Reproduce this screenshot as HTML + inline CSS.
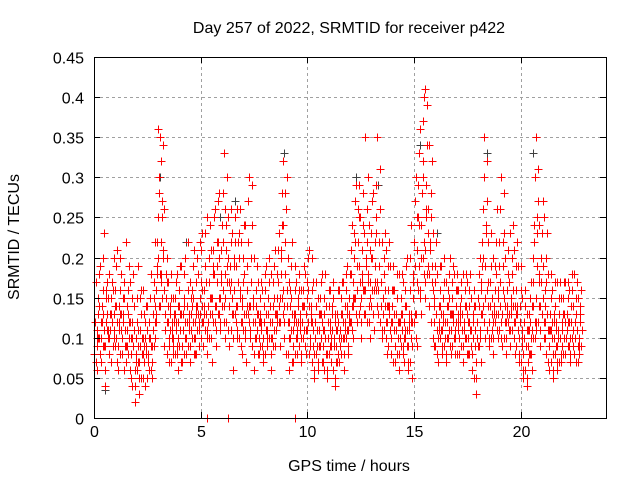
<!DOCTYPE html>
<html><head><meta charset="utf-8"><style>
html,body{margin:0;padding:0;background:#fff}
svg{display:block;font-family:"Liberation Sans",sans-serif}
</style></head><body>
<svg id="chart" width="640" height="480">
<g id="grid"></g>
<g id="marks"></g>
<rect x="94.5" y="57.5" width="512" height="361" fill="none" stroke="#000" stroke-width="1"/>
<g id="axes"></g>
<text x="349" y="33" font-size="16" text-anchor="middle">Day 257 of 2022, SRMTID for receiver p422</text>
<text x="349" y="471" font-size="16" text-anchor="middle">GPS time / hours</text>
<text x="19" y="237" font-size="16" text-anchor="middle" transform="rotate(-90 19 237)">SRMTID / TECUs</text>
</svg>
<script>
const xTicks=[0,5,10,15,20];
const yTicks=[0,0.05,0.1,0.15,0.2,0.25,0.3,0.35,0.4,0.45];
const yTickLabels=["0","0.05","0.1","0.15","0.2","0.25","0.3","0.35","0.4","0.45"];
const redRows=[
[0.0,.08,.12,.17,.06,.10],[0.2,.10,.14,.19,.07,.12],[0.4,.09,.13,.23,.04,.16],[0.6,.11,.15,.18,.08,.13],
[0.8,.07,.12,.16,.10,.20],[1.0,.09,.14,.21,.06,.11],[1.2,.08,.13,.18,.10,.15],[1.4,.06,.11,.22,.09,.14],
[1.6,.08,.12,.17,.05,.10],[1.8,.04,.09,.14,.02,.07],[2.0,.06,.11,.19,.03,.15],[2.2,.05,.10,.16,.08,.13],
[2.4,.04,.09,.14,.07,.12],[2.6,.06,.10,.18,.05,.13],[2.8,.09,.14,.22,.12,.18],[3.0,.20,.28,.35,.17,.32],
[3.2,.15,.21,.26,.11,.18],[3.4,.08,.12,.17,.10,.14],[3.6,.07,.11,.15,.09,.13],[3.8,.08,.12,.18,.06,.14],
[4.0,.09,.13,.19,.07,.11],[4.2,.08,.14,.20,.10,.12],[4.4,.09,.12,.17,.07,.15],[4.6,.10,.15,.21,.08,.13],
[4.8,.08,.14,.18,.12,.22],[5.0,.10,.16,.23,.09,.13],[5.2,.11,.17,.25,.08,.14],[5.4,.10,.15,.21,.07,.19],
[5.6,.12,.18,.26,.09,.22],[5.8,.13,.20,.28,.11,.17],[6.0,.14,.22,.33,.10,.26],[6.2,.12,.19,.25,.09,.16],
[6.4,.11,.17,.23,.06,.20],[6.6,.13,.19,.26,.10,.22],[6.8,.10,.16,.22,.08,.14],[7.0,.11,.18,.24,.07,.14],
[7.2,.13,.22,.30,.10,.17],[7.4,.09,.14,.20,.06,.12],[7.6,.10,.13,.17,.08,.12],[7.8,.09,.12,.16,.07,.14],
[8.0,.08,.13,.19,.10,.15],[8.2,.10,.14,.18,.06,.12],[8.4,.09,.15,.21,.11,.13],[8.6,.12,.17,.23,.09,.20],
[8.8,.15,.24,.32,.12,.28],[9.0,.08,.14,.20,.06,.17],[9.2,.10,.15,.22,.07,.12],[9.4,.08,.13,.17,.11,.15],
[9.6,.09,.12,.16,.07,.14],[9.8,.10,.14,.18,.08,.13],[10.0,.11,.16,.21,.09,.13],[10.2,.07,.12,.17,.05,.10],
[10.4,.08,.11,.15,.06,.13],[10.6,.09,.13,.18,.07,.11],[10.8,.06,.10,.14,.05,.12],[11.0,.08,.12,.16,.10,.14],
[11.2,.06,.09,.13,.04,.11],[11.4,.07,.12,.16,.09,.10],[11.6,.08,.13,.17,.06,.11],[11.8,.10,.14,.19,.08,.12],
[12.0,.12,.18,.24,.10,.15],[12.2,.15,.22,.29,.12,.26],[12.4,.13,.19,.25,.10,.17],[12.6,.16,.23,.35,.13,.20],
[12.8,.12,.18,.24,.10,.21],[13.0,.14,.20,.28,.11,.17],[13.2,.16,.23,.35,.13,.19],[13.4,.12,.17,.22,.10,.15],
[13.6,.11,.16,.21,.08,.14],[13.8,.09,.14,.19,.12,.16],[14.0,.07,.11,.16,.09,.13],[14.2,.08,.12,.18,.06,.10],
[14.4,.09,.13,.17,.07,.11],[14.6,.10,.14,.20,.06,.12],[14.8,.07,.13,.24,.05,.17],[15.0,.12,.19,.30,.09,.25],
[15.2,.16,.24,.36,.13,.28],[15.4,.20,.30,.40,.15,.26],[15.6,.18,.26,.34,.14,.22],[15.8,.12,.17,.23,.09,.15],
[16.0,.09,.13,.18,.07,.11],[16.2,.10,.14,.19,.08,.12],[16.4,.09,.12,.17,.07,.14],[16.6,.10,.15,.20,.08,.13],
[16.8,.09,.13,.18,.11,.16],[17.0,.08,.12,.16,.10,.14],[17.2,.09,.13,.18,.07,.11],[17.4,.10,.14,.17,.08,.12],
[17.6,.08,.11,.15,.06,.13],[17.8,.05,.09,.14,.03,.12],[18.0,.09,.14,.20,.07,.17],[18.2,.13,.20,.30,.10,.24],
[18.4,.11,.16,.22,.09,.14],[18.6,.10,.15,.20,.08,.13],[18.8,.12,.18,.26,.10,.15],[19.0,.11,.17,.30,.09,.22],
[19.2,.10,.15,.20,.08,.13],[19.4,.12,.17,.23,.09,.14],[19.6,.11,.16,.21,.08,.13],[19.8,.09,.14,.19,.07,.12],
[20.0,.07,.10,.15,.05,.12],[20.2,.06,.09,.13,.04,.11],[20.4,.08,.12,.17,.06,.10],[20.6,.14,.22,.30,.11,.25],
[20.8,.12,.18,.24,.09,.20],[21.0,.13,.19,.25,.10,.16],[21.2,.08,.13,.18,.06,.11],[21.4,.07,.11,.16,.05,.13],
[21.6,.08,.12,.17,.06,.10],[21.8,.07,.10,.15,.09,.12],[22.0,.08,.13,.17,.10,.11],[22.2,.09,.12,.16,.07,.14],
[22.4,.10,.14,.18,.08,.12],[22.6,.07,.11,.15,.09,.13]
];
const redRows2=[
[0.1,.07,.09,.11,.13,.15,.18,.10,.08],[0.3,.08,.10,.12,.14,.16,.20,.11,.09],[0.5,.06,.09,.12,.15,.13,.17,.10,.11],
[0.7,.08,.10,.11,.13,.15,.17,.12,.09],[0.9,.09,.11,.13,.14,.16,.19,.10,.12],[1.1,.07,.09,.12,.14,.16,.20,.11,.13],
[1.3,.08,.10,.12,.13,.15,.17,.09,.11],[1.5,.07,.09,.11,.13,.16,.19,.10,.12],[1.7,.06,.08,.10,.12,.15,.18,.09,.11],
[1.9,.04,.06,.08,.10,.12,.15,.07,.09],[2.1,.05,.07,.09,.11,.13,.16,.08,.10],[2.3,.05,.07,.09,.10,.12,.14,.08,.11],
[2.5,.05,.07,.08,.10,.12,.15,.06,.09],[2.7,.07,.09,.11,.13,.15,.17,.10,.12],[2.9,.13,.16,.19,.22,.25,.30,.14,.18],
[3.1,.14,.18,.22,.25,.27,.34,.20,.16],[3.3,.09,.11,.13,.15,.17,.20,.12,.14],[3.5,.07,.09,.11,.13,.15,.18,.10,.12],
[3.7,.08,.10,.12,.13,.15,.17,.11,.09],[3.9,.08,.10,.12,.14,.16,.19,.11,.13],[4.1,.07,.09,.11,.13,.15,.18,.10,.12],
[4.3,.08,.10,.12,.14,.16,.22,.11,.13],[4.5,.09,.11,.13,.14,.16,.19,.12,.10],[4.7,.08,.10,.12,.14,.17,.20,.11,.13],
[4.9,.09,.11,.13,.15,.17,.21,.12,.14],[5.1,.09,.12,.14,.16,.19,.23,.13,.11],[5.3,.10,.12,.14,.17,.20,.24,.13,.15],
[5.5,.10,.13,.15,.18,.21,.25,.14,.12],[5.7,.11,.14,.17,.19,.22,.27,.15,.13],[5.9,.12,.15,.18,.21,.24,.28,.16,.14],
[6.1,.12,.15,.18,.21,.24,.30,.17,.20],[6.3,.11,.14,.17,.19,.22,.26,.15,.13],[6.5,.10,.13,.16,.19,.22,.25,.14,.12],
[6.7,.11,.14,.17,.20,.23,.26,.15,.12],[6.9,.09,.12,.15,.17,.20,.24,.13,.11],[7.1,.10,.13,.16,.19,.22,.27,.14,.12],
[7.3,.11,.14,.17,.20,.24,.29,.15,.12],[7.5,.08,.10,.12,.14,.16,.19,.11,.13],[7.7,.08,.10,.12,.13,.15,.17,.11,.09],
[7.9,.08,.10,.12,.14,.16,.18,.11,.13],[8.1,.09,.11,.13,.15,.17,.20,.12,.10],[8.3,.08,.10,.12,.14,.17,.19,.11,.13],
[8.5,.09,.11,.13,.15,.18,.21,.12,.14],[8.7,.12,.15,.18,.21,.24,.28,.16,.13],[8.9,.10,.14,.18,.22,.26,.30,.16,.12],
[9.1,.08,.10,.12,.14,.16,.19,.11,.13],[9.3,.07,.09,.11,.13,.16,.19,.10,.12],[9.5,.08,.10,.12,.14,.16,.18,.11,.13],
[9.7,.08,.10,.12,.14,.16,.19,.11,.09],[9.9,.09,.11,.13,.15,.17,.20,.12,.14],[10.1,.08,.10,.12,.14,.16,.20,.11,.09],
[10.3,.06,.08,.10,.12,.14,.17,.09,.11],[10.5,.07,.09,.11,.13,.15,.17,.10,.12],[10.7,.07,.09,.11,.13,.15,.18,.10,.08],
[10.9,.06,.08,.10,.12,.14,.16,.09,.11],[11.1,.07,.09,.11,.13,.15,.17,.10,.12],[11.3,.05,.07,.09,.11,.13,.16,.08,.10],
[11.5,.07,.09,.11,.13,.15,.17,.10,.12],[11.7,.08,.10,.12,.14,.16,.18,.11,.13],[11.9,.09,.11,.13,.15,.18,.21,.12,.14],
[12.1,.11,.14,.17,.20,.23,.27,.15,.13],[12.3,.13,.16,.19,.22,.25,.29,.17,.14],[12.5,.12,.15,.18,.21,.24,.28,.16,.13],
[12.7,.13,.16,.19,.22,.26,.30,.17,.14],[12.9,.12,.15,.17,.20,.23,.27,.16,.13],[13.1,.13,.16,.19,.22,.25,.29,.17,.14],
[13.3,.13,.16,.19,.22,.26,.31,.17,.14],[13.5,.11,.13,.15,.18,.20,.23,.14,.12],[13.7,.10,.12,.14,.16,.19,.22,.13,.11],
[13.9,.08,.10,.12,.14,.16,.19,.11,.13],[14.1,.07,.09,.11,.13,.15,.18,.10,.12],[14.3,.08,.10,.12,.13,.15,.18,.11,.09],
[14.5,.08,.10,.12,.14,.16,.19,.11,.09],[14.7,.07,.09,.11,.13,.16,.20,.10,.12],[14.9,.09,.12,.15,.18,.22,.27,.13,.10],
[15.1,.13,.17,.21,.25,.29,.33,.19,.15],[15.3,.16,.20,.24,.28,.32,.37,.22,.18],[15.5,.17,.21,.25,.29,.34,.39,.23,.19],
[15.7,.14,.18,.21,.25,.28,.32,.19,.16],[15.9,.10,.12,.14,.17,.19,.22,.13,.11],[16.1,.08,.10,.12,.14,.16,.19,.11,.13],
[16.3,.09,.11,.13,.15,.17,.20,.12,.10],[16.5,.08,.10,.12,.14,.16,.18,.11,.13],[16.7,.09,.11,.13,.15,.17,.19,.12,.10],
[16.9,.08,.10,.12,.14,.16,.18,.11,.13],[17.1,.08,.10,.12,.13,.15,.17,.11,.09],[17.3,.09,.11,.12,.14,.16,.18,.10,.13],
[17.5,.08,.10,.12,.14,.16,.18,.11,.09],[17.7,.06,.08,.10,.12,.14,.16,.09,.11],[17.9,.05,.07,.10,.12,.15,.18,.09,.11],
[18.1,.10,.13,.16,.19,.22,.26,.14,.12],[18.3,.12,.15,.19,.23,.27,.32,.17,.14],[18.5,.10,.12,.14,.17,.19,.23,.13,.11],
[18.7,.10,.12,.14,.16,.19,.22,.13,.11],[18.9,.11,.13,.16,.19,.22,.26,.14,.12],[19.1,.10,.13,.16,.19,.23,.28,.14,.12],
[19.3,.10,.12,.14,.16,.18,.21,.13,.11],[19.5,.11,.13,.15,.18,.20,.24,.14,.12],[19.7,.10,.12,.14,.16,.19,.22,.13,.11],
[19.9,.08,.10,.12,.14,.16,.19,.11,.09],[20.1,.06,.08,.10,.12,.14,.16,.09,.11],[20.3,.05,.07,.09,.11,.13,.15,.08,.10],
[20.5,.08,.11,.14,.17,.20,.24,.12,.10],[20.7,.12,.15,.19,.23,.27,.31,.17,.14],[20.9,.11,.14,.17,.20,.23,.27,.15,.12],
[21.1,.10,.12,.14,.17,.20,.23,.13,.11],[21.3,.07,.09,.11,.13,.15,.18,.10,.12],[21.5,.06,.08,.10,.12,.14,.17,.09,.11],
[21.7,.07,.09,.11,.13,.15,.17,.10,.08],[21.9,.07,.09,.11,.13,.15,.17,.10,.12],[22.1,.08,.10,.11,.13,.15,.17,.09,.12],
[22.3,.08,.10,.12,.14,.16,.18,.11,.09],[22.5,.08,.10,.12,.13,.15,.17,.11,.09],[22.7,.07,.08,.10,.12,.14,.16,.09,.11]
];
const redExtraT=[5.3,6.3,9.4,15.5,15.6,3.0,6.1,12.7,18.3,20.7];
const redExtraV=[0,0,0,0.41,0.39,0.36,0.33,0.35,0.35,0.35];
const grayT=[0.5,3.1,4.3,5.9,6.6,8.9,12.3,13.3,15.3,16.1,18.4,20.6,22.0];
const grayV=[0.035,0.30,0.22,0.25,0.27,0.33,0.30,0.29,0.34,0.23,0.33,0.33,0.15];

const X0=94,X1=606,Y0=418,Y1=57;
const xs=v=>X0+(v/24)*(X1-X0);
const ys=v=>Y0-(v/0.45)*(Y0-Y1);
const NS="http://www.w3.org/2000/svg";
const grid=document.getElementById('grid'),axes=document.getElementById('axes'),marks=document.getElementById('marks');
function mk(tag,attrs,parent){const e=document.createElementNS(NS,tag);for(const k in attrs)e.setAttribute(k,attrs[k]);parent.appendChild(e);return e;}
xTicks.forEach(t=>{
  const x=Math.round(xs(t))+0.5;
  if(t>0){const g=mk('line',{x1:x,x2:x,y1:Y0,y2:Y1,stroke:'#a0a0a0','stroke-dasharray':'3,3'},grid);
  
  }
  mk('line',{x1:x,x2:x,y1:Y0,y2:Y0-6,stroke:'#000'},axes);
  mk('line',{x1:x,x2:x,y1:Y1,y2:Y1+6,stroke:'#000'},axes);
  const tx=mk('text',{x:x,y:Y0+19,'font-size':16,'text-anchor':'middle'},axes);
  tx.textContent=String(t);
  
  
});
yTicks.forEach((t,i)=>{
  const y=Math.round(ys(t))+0.5;
  if(i>0&&i<yTicks.length-1){const g=mk('line',{x1:X0,x2:X1,y1:y,y2:y,stroke:'#a0a0a0','stroke-dasharray':'3,3'},grid);
  
  }
  mk('line',{x1:X0,x2:X0+6,y1:y,y2:y,stroke:'#000'},axes);
  mk('line',{x1:X1,x2:X1-6,y1:y,y2:y,stroke:'#000'},axes);
  const tx=mk('text',{x:X0-10,y:y+6,'font-size':16,'text-anchor':'end'},axes);
  tx.textContent=yTickLabels[i];
  
  
});
let dRed='',dGray='';
function plus(t,v){const x=Math.round(xs(t))+0.5,y=Math.round(ys(v))+0.5;return `M${x-4} ${y}h8M${x} ${y-4}v8`;}
grayT.forEach((t,i)=>{dGray+=plus(t,grayV[i]);});
redRows.forEach(r=>{for(let i=1;i<r.length;i++){dRed+=plus(r[0]+(i-1)*0.04,r[i]);}});
redRows2.forEach(r=>{for(let i=1;i<r.length;i++){dRed+=plus(r[0]+(i-1)*0.025,r[i]);}});
redExtraT.forEach((t,i)=>{dRed+=plus(t,redExtraV[i]);});
const pg=mk('path',{d:dGray,stroke:'#404040','stroke-width':1,fill:'none'},marks);


const pr=mk('path',{d:dRed,stroke:'#ff0000','stroke-width':1,fill:'none'},marks);


</script>
</body></html>
